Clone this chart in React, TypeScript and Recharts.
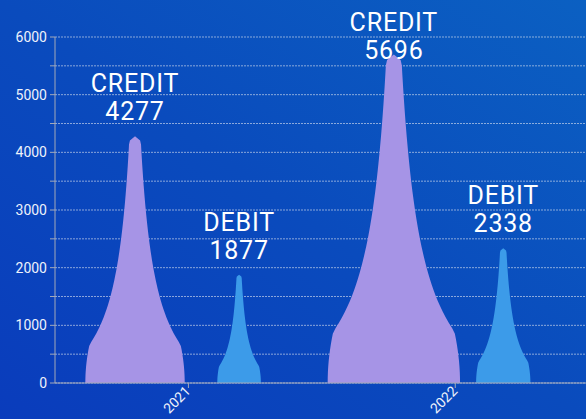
import React from "react";
import { BarChart, Bar, XAxis, YAxis, CartesianGrid, LabelList, Cell } from "recharts";

const kinds = ["CREDIT", "DEBIT", "CREDIT", "DEBIT"];
const positions = [2020.8, 2021.19, 2021.77, 2022.18];
const amounts = [4277, 1877, 5696, 2338];
const yTicks = [0, 500, 1000, 1500, 2000, 2500, 3000, 3500, 4000, 4500, 5000, 5500, 6000];
const xTicks = [2021, 2022];

const COLORS: Record<string, string> = { CREDIT: "#a694e6", DEBIT: "#3c9be9" };
const TEXT = "#eef2fb";
const AXIS = "#a3a9b8";

const data = kinds.map((k, i) => ({ kind: k, x: positions[i], value: amounts[i] }));

// profile of the spike, as a fraction of its base width
function profile(t: number): number {
  if (t < 0.152) return 0.5 - 0.04 * (t / 0.152) ** 2;
  return 0.175 / (t + 0.16) - 0.095;
}

function spikePath(cx: number, base: number, h: number, w: number): string {
  const capR = profile(1) * w * 1.6;
  const tc = Math.max(0.5, 1 - capR / h);
  const n = 60;
  const right: [number, number][] = [];
  for (let i = 0; i <= n; i++) {
    const t = i / n;
    let off: number;
    if (t <= tc) off = profile(t) * w;
    else {
      const u = (t - tc) / (1 - tc);
      off = profile(tc) * w * Math.sqrt(Math.max(0, 1 - u * u));
    }
    right.push([cx + off, base - t * h]);
  }
  const left = right.slice().reverse().map(([x, y]) => [2 * cx - x, y] as [number, number]);
  const pts = right.concat(left.slice(1));
  return "M" + pts.map(([x, y]) => `${x.toFixed(2)},${y.toFixed(2)}`).join("L") + "Z";
}

/* eslint-disable @typescript-eslint/no-explicit-any */
function SpikeShape(props: any) {
  const { x, y, width, height, fill } = props;
  if (!height || height <= 0) return null;
  const cx = x + width / 2;
  const w = height * 0.403;
  return <path d={spikePath(cx, y + height, height, w)} fill={fill} />;
}

function renderLabel(props: any) {
  const { x, y, width, value, index } = props;
  const cx = x + width / 2;
  const kindY = Math.max(y - 44, 31);
  return (
    <g fontSize={25} fontFamily="Roboto" fill="#ffffff" letterSpacing={0.8}>
      <text x={cx} y={kindY} textAnchor="middle">
        {kinds[index]}
      </text>
      <text x={cx} y={kindY + 28} textAnchor="middle">
        {value}
      </text>
    </g>
  );
}

function XTick(props: any) {
  const { x, y, payload } = props;
  return (
    <text
      x={x + 3}
      y={y + 2}
      textAnchor="end"
      fill={TEXT}
      fontSize={14}
      fontFamily="Roboto"
      transform={`rotate(-45, ${x + 3}, ${y + 2})`}
    >
      {payload.value}
    </text>
  );
}
/* eslint-enable @typescript-eslint/no-explicit-any */

export default function App() {
  return (
    <div
      style={{
        position: "absolute",
        left: 0,
        top: 0,
        width: 586,
        height: 419,
        overflow: "hidden",
        background: "linear-gradient(to top right, #0a3cbc 0%, #0a4bbd 50%, #0b60c2 100%)",
      }}
    >
      <BarChart width={586} height={419} data={data} margin={{ top: 37, right: 0, bottom: 0, left: 0 }}>
        <CartesianGrid vertical={false} stroke="rgba(225,230,240,0.6)" strokeDasharray="2 1" />
        <XAxis
          type="number"
          dataKey="x"
          domain={[2020.5, 2022.49]}
          ticks={xTicks}
          height={36}
          stroke={AXIS}
          tickSize={5}
          tick={<XTick />}
          allowDataOverflow
        />
        <YAxis
          domain={[0, 6000]}
          ticks={yTicks}
          width={55}
          stroke={AXIS}
          tickSize={5}
          tickMargin={3}
          interval={0}
          tick={{ fill: TEXT, fontSize: 14, fontFamily: "Roboto" }}
          tickFormatter={(v: number) => (v % 1000 === 0 ? String(v) : "")}
        />
        <Bar dataKey="value" isAnimationActive={false} shape={<SpikeShape />} barSize={20}>
          {data.map((d, i) => (
            <Cell key={i} fill={COLORS[d.kind]} />
          ))}
          <LabelList dataKey="value" content={renderLabel} />
        </Bar>
      </BarChart>
    </div>
  );
}
